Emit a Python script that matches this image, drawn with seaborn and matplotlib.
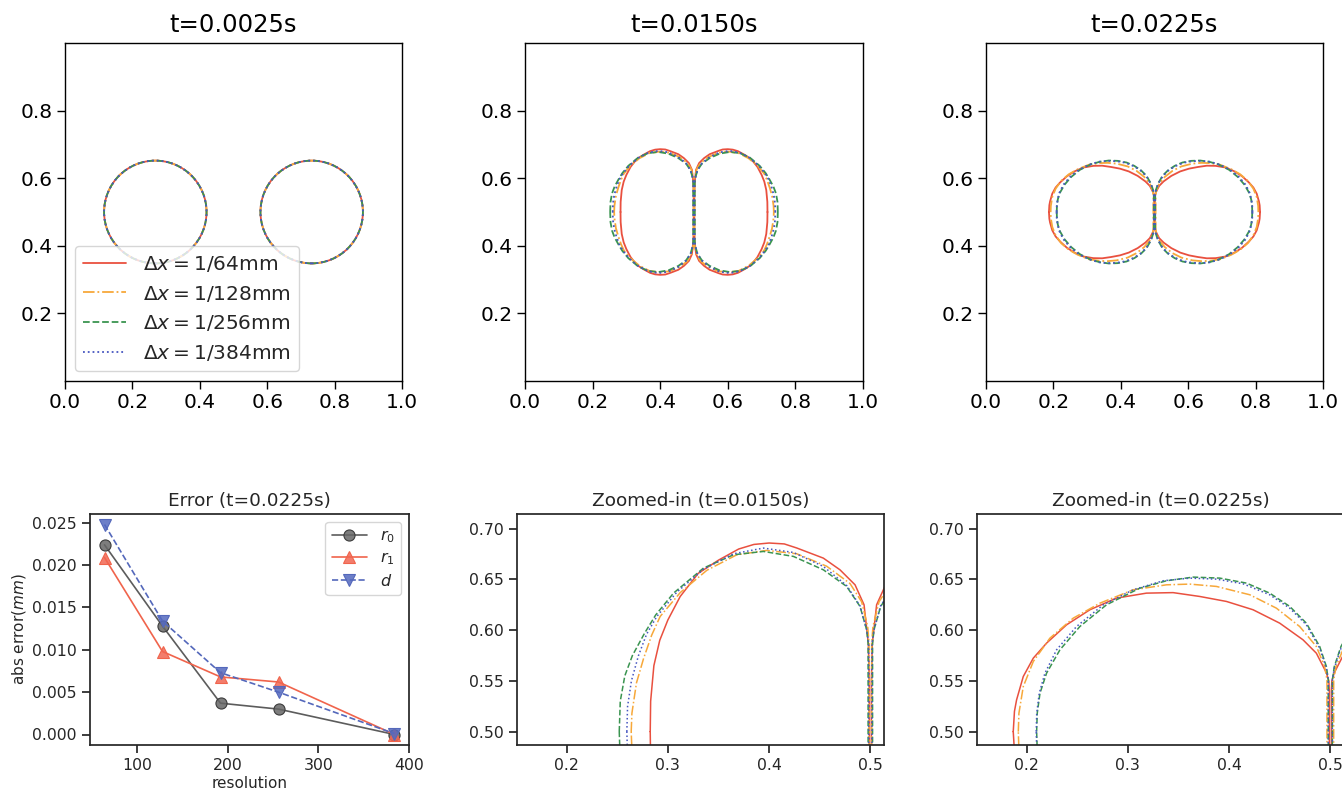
import numpy as np
import pandas as pd
import matplotlib
matplotlib.use("Agg")
import matplotlib.pyplot as plt
from matplotlib.patches import Circle
from matplotlib.lines import Line2D
import seaborn as sns

# ---------------- data ----------------
res_labels = [r"$\Delta x=1/64$mm", r"$\Delta x=1/128$mm",
              r"$\Delta x=1/256$mm", r"$\Delta x=1/384$mm"]
res_colors = ["#e9503f", "#f7a83a", "#3a9450", "#4656c0"]
res_styles = ["-", "-.", "--", ":"]

top_titles = ["t=0.0025s", "t=0.0150s", "t=0.0225s"]

# t = 0.0025 s : two separate circles (same for all resolutions)
circle_left_cx = [0.268, 0.268, 0.268, 0.268]
circle_right_cx = [0.732, 0.732, 0.732, 0.732]
circle_cy = [0.500, 0.500, 0.500, 0.500]
circle_r = [0.152, 0.152, 0.152, 0.152]

# t = 0.0150 s : upper half of the left lobe (from leftmost point to the neck)
x15_64 = [0.2826, 0.2830, 0.2862, 0.2920, 0.3000, 0.3122, 0.3300, 0.3500, 0.3700, 0.3850,
          0.4000, 0.4150, 0.4273, 0.4536, 0.4700, 0.4849, 0.4938, 0.4980, 0.4990, 0.4990]
y15_64 = [0.5000, 0.5300, 0.5650, 0.5900, 0.6100, 0.6332, 0.6560, 0.6690, 0.6800, 0.6845,
          0.6859, 0.6850, 0.6810, 0.6710, 0.6595, 0.6447, 0.6250, 0.5870, 0.5500, 0.5000]
x15_128 = [0.2638, 0.2645, 0.2690, 0.2760, 0.2840, 0.2924, 0.3122, 0.3385, 0.3681, 0.3977,
           0.4273, 0.4569, 0.4799, 0.4914, 0.4974, 0.4987, 0.4987]
y15_128 = [0.5000, 0.5181, 0.5480, 0.5720, 0.5950, 0.6135, 0.6370, 0.6590, 0.6743, 0.6786,
           0.6753, 0.6630, 0.6460, 0.6280, 0.6036, 0.5870, 0.5000]
x15_256 = [0.2520, 0.2530, 0.2575, 0.2650, 0.2770, 0.2880, 0.3056, 0.3352, 0.3648, 0.3944,
           0.4240, 0.4536, 0.4766, 0.4898, 0.4964, 0.4978, 0.4978]
y15_256 = [0.5000, 0.5300, 0.5550, 0.5750, 0.5970, 0.6150, 0.6365, 0.6612, 0.6743, 0.6776,
           0.6727, 0.6595, 0.6431, 0.6234, 0.6003, 0.5870, 0.5000]
x15_384 = [0.2595, 0.2602, 0.2640, 0.2710, 0.2790, 0.2891, 0.3089, 0.3352, 0.3648, 0.3944,
           0.4240, 0.4536, 0.4766, 0.4898, 0.4964, 0.4984, 0.4984]
y15_384 = [0.5000, 0.5247, 0.5500, 0.5750, 0.5960, 0.6135, 0.6375, 0.6600, 0.6753, 0.6809,
           0.6766, 0.6628, 0.6440, 0.6240, 0.6003, 0.5870, 0.5000]

# t = 0.0225 s : upper half of the left lobe
x22_64 = [0.1868, 0.1880, 0.1901, 0.1967, 0.2066, 0.2197, 0.2395, 0.2625, 0.2888, 0.3184,
          0.3447, 0.3711, 0.3974, 0.4237, 0.4500, 0.4730, 0.4862, 0.4961, 0.4985, 0.4990, 0.4990]
y22_64 = [0.5000, 0.5200, 0.5313, 0.5543, 0.5724, 0.5872, 0.6053, 0.6201, 0.6316, 0.6365,
          0.6370, 0.6332, 0.6283, 0.6201, 0.6069, 0.5905, 0.5773, 0.5580, 0.5500, 0.5400, 0.5000]
x22_128 = [0.1918, 0.1924, 0.1967, 0.2066, 0.2230, 0.2460, 0.2724, 0.3053, 0.3382, 0.3612,
           0.3875, 0.4204, 0.4467, 0.4697, 0.4862, 0.4944, 0.4967, 0.4967]
y22_128 = [0.5000, 0.5181, 0.5444, 0.5691, 0.5921, 0.6118, 0.6266, 0.6398, 0.6447, 0.6454,
           0.6431, 0.6349, 0.6217, 0.6036, 0.5839, 0.5641, 0.5510, 0.5000]
x22_256 = [0.2099, 0.2105, 0.2132, 0.2197, 0.2329, 0.2526, 0.2789, 0.3118, 0.3382, 0.3645,
           0.3908, 0.4171, 0.4401, 0.4599, 0.4763, 0.4895, 0.4961, 0.4980, 0.4980]
y22_256 = [0.5000, 0.5181, 0.5378, 0.5576, 0.5806, 0.6036, 0.6250, 0.6414, 0.6487, 0.6523,
           0.6513, 0.6464, 0.6365, 0.6234, 0.6069, 0.5839, 0.5641, 0.5510, 0.5000]
x22_384 = [0.2095, 0.2100, 0.2125, 0.2181, 0.2296, 0.2493, 0.2757, 0.3053, 0.3349, 0.3612,
           0.3875, 0.4138, 0.4401, 0.4599, 0.4763, 0.4895, 0.4961, 0.4980, 0.4980]
y22_384 = [0.5000, 0.5181, 0.5378, 0.5576, 0.5806, 0.6036, 0.6250, 0.6398, 0.6487, 0.6513,
           0.6503, 0.6457, 0.6349, 0.6217, 0.6053, 0.5822, 0.5625, 0.5510, 0.5000]

lobes_15 = [(x15_64, y15_64), (x15_128, y15_128), (x15_256, y15_256), (x15_384, y15_384)]
lobes_22 = [(x22_64, y22_64), (x22_128, y22_128), (x22_256, y22_256), (x22_384, y22_384)]

# error plot
resolution = [64, 128, 192, 256, 384]
err_r0 = [0.0224, 0.0128, 0.0037, 0.0030, 0.0000]
err_r1 = [0.0209, 0.0098, 0.0068, 0.0062, 0.0000]
err_d = [0.0248, 0.0134, 0.0073, 0.0050, 0.0001]

# ---------------- style ----------------
sns.set_theme(style="ticks")
plt.rcParams["font.family"] = ["DejaVu Sans"]
plt.rcParams["mathtext.fontset"] = "dejavusans"

W, H = 1342, 792
fig = plt.figure(figsize=(W / 100, H / 100), dpi=100)
fig.patch.set_facecolor("white")


def px_axes(x0, y0, x1, y1):
    return fig.add_axes([x0 / W, (H - y1) / H, (x1 - x0) / W, (y1 - y0) / H])


def full_lobe(xq, yq):
    xq = np.asarray(xq)
    yq = np.asarray(yq)
    xs = np.concatenate([xq, xq[::-1][1:]])
    ys = np.concatenate([yq, (1.0 - yq)[::-1][1:]])
    return xs, ys


def draw_lobes(ax, lobes, lw):
    for (xq, yq), c, ls in zip(lobes, res_colors, res_styles):
        xs, ys = full_lobe(xq, yq)
        for xx in (xs, 1.0 - xs):
            df = pd.DataFrame({"x": xx, "y": ys})
            sns.lineplot(data=df, x="x", y="y", sort=False, estimator=None,
                         color=c, linestyle=ls, linewidth=lw, ax=ax, legend=False)


# ---------------- top row ----------------
top_boxes = [(65, 43, 402, 381), (525, 43, 863, 381), (986, 43, 1323, 381)]
top_axes = [px_axes(*b) for b in top_boxes]

for ax, title in zip(top_axes, top_titles):
    ax.set_xlim(0, 1)
    ax.set_ylim(0, 1)
    ax.set_xticks([0.0, 0.2, 0.4, 0.6, 0.8, 1.0])
    ax.set_yticks([0.2, 0.4, 0.6, 0.8])
    ax.set_xlabel("")
    ax.set_ylabel("")
    ax.tick_params(labelsize=14.5, colors="black", length=5.5, width=1.0)
    for s in ax.spines.values():
        s.set_color("black")
        s.set_linewidth(1.0)
    ax.set_title(title, fontsize=17.5, color="black", pad=8)

ax0 = top_axes[0]
for i in range(4):
    for cx in (circle_left_cx[i], circle_right_cx[i]):
        ax0.add_patch(Circle((cx, circle_cy[i]), circle_r[i], fill=False,
                             edgecolor=res_colors[i], linestyle=res_styles[i], linewidth=1.3))
handles = [Line2D([], [], color=c, linestyle=ls, linewidth=1.3)
           for c, ls in zip(res_colors, res_styles)]
ax0.legend(handles, res_labels, loc="lower left", fontsize=14.5, handlelength=2.15,
           labelspacing=0.48, borderpad=0.4, handletextpad=0.8)

draw_lobes(top_axes[1], lobes_15, 1.3)
draw_lobes(top_axes[2], lobes_22, 1.3)
for ax in top_axes:
    ax.set_xlabel("")
    ax.set_ylabel("")

# ---------------- bottom row ----------------
ax_err = px_axes(90, 514, 409, 745)
sns.lineplot(x=resolution, y=err_r0, ax=ax_err, color="#5c5c5c", linewidth=1.2,
             marker="o", markersize=8, markerfacecolor=(0.40, 0.40, 0.40, 0.85),
             markeredgecolor="#3c3c3c", markeredgewidth=0.8, label=r"$r_0$")
sns.lineplot(x=resolution, y=err_r1, ax=ax_err, color="#f0644c", linewidth=1.2,
             marker="^", markersize=9, markerfacecolor=(0.95, 0.40, 0.32, 0.85),
             markeredgecolor="#f0644c", markeredgewidth=0.8, label=r"$r_1$")
sns.lineplot(x=resolution, y=err_d, ax=ax_err, color="#5468bb", linewidth=1.2,
             linestyle="--", marker="v", markersize=9,
             markerfacecolor=(0.33, 0.41, 0.75, 0.85),
             markeredgecolor="#5468bb", markeredgewidth=0.8, label=r"$d$")
ax_err.set_xticks([100, 200, 300, 400])
ax_err.set_yticks([0.000, 0.005, 0.010, 0.015, 0.020, 0.025])
ax_err.set_yticklabels(["0.000", "0.005", "0.010", "0.015", "0.020", "0.025"])
ax_err.set_xlim(48, 400)
ax_err.set_ylim(-0.00124, 0.02604)
ax_err.set_xlabel("resolution", fontsize=11, labelpad=2)
ax_err.set_ylabel(r"abs error($mm$)", fontsize=11, labelpad=3)
ax_err.set_title("Error (t=0.0225s)", fontsize=13.3, pad=6)
ax_err.tick_params(labelsize=11.3)
ax_err.legend(loc="upper right", fontsize=11.5, handlelength=2.2, borderpad=0.4,
              labelspacing=0.35)

zoom_boxes = [(517, 514, 884, 745), (977, 514, 1344, 745)]
zoom_titles = ["Zoomed-in (t=0.0150s)", "Zoomed-in (t=0.0225s)"]
for box, title, lobes in zip(zoom_boxes, zoom_titles, [lobes_15, lobes_22]):
    ax = px_axes(*box)
    draw_lobes(ax, lobes, 1.1)
    ax.set_xlim(0.151, 0.5135)
    ax.set_ylim(0.4868, 0.7145)
    ax.set_xticks([0.2, 0.3, 0.4, 0.5])
    ax.set_xticklabels(["0.2", "0.3", "0.4", "0.5"])
    ax.set_yticks([0.50, 0.55, 0.60, 0.65, 0.70])
    ax.set_yticklabels(["0.50", "0.55", "0.60", "0.65", "0.70"])
    ax.set_xlabel("")
    ax.set_ylabel("")
    ax.tick_params(labelsize=11.3)
    ax.set_title(title, fontsize=13.3, pad=6)

fig.savefig("out.png", dpi=100, facecolor="white")
